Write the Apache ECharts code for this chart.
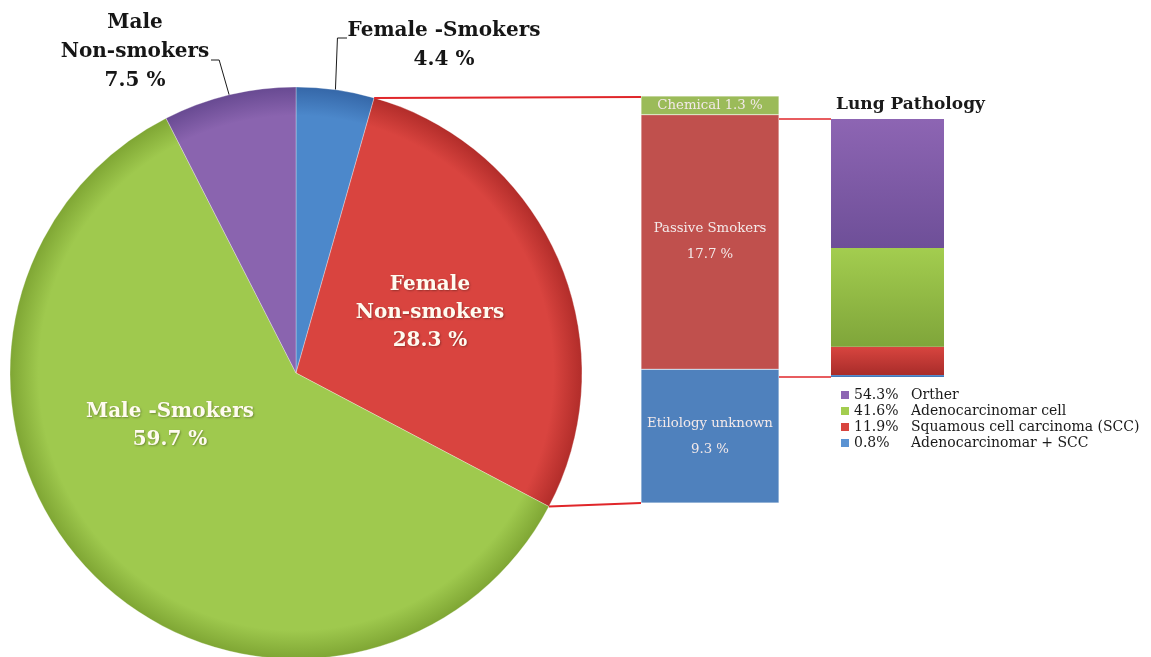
<!DOCTYPE html>
<html><head><meta charset="utf-8">
<script src="https://cdn.jsdelivr.net/npm/echarts@6/dist/echarts.min.js"></script>
<style>html,body{margin:0;padding:0;background:#fff}#c{width:1151px;height:657px}</style>
</head><body><div id="c"></div>
<script>
// ---- data ----
const pieLabels = ['Female -Smokers', 'Female\nNon-smokers', 'Male -Smokers', 'Male\nNon-smokers'];
const pieValues = [4.4, 28.3, 59.7, 7.5];
const causeLabels = ['Etilology unknown', 'Passive Smokers', 'Chemical'];
const causeValues = [9.3, 17.7, 1.3];
const pathologyLabels = ['Adenocarcinomar + SCC', 'Squamous cell carcinoma (SCC)', 'Adenocarcinomar cell', 'Orther'];
const pathologyValues = [0.8, 11.9, 41.6, 54.3];
const pathologyLegendOrder = ['Orther', 'Adenocarcinomar cell', 'Squamous cell carcinoma (SCC)', 'Adenocarcinomar + SCC'];
const chartTitle = 'Lung Pathology';

// ---- styling / layout ----
const FONT = 'DejaVu Serif';
const CX = 296, CY = 373, R = 286;
const pieColors = [['#4c88cb', '#3567a8'], ['#d9443f', '#b22d2a'], ['#9fc94e', '#7fa634'], ['#8a64af', '#684a92']];
const causeColors = ['#4f81bd', '#c0504d', '#9bbb59'];
const pathColors = [['#5b93d3', '#3d6fae'], ['#d8453f', '#a82c2a'], ['#a3cd4f', '#7fa53a'], ['#8d65b3', '#6e4f98']];

const sum = a => a.reduce((s, v) => s + v, 0);
const pieTotal = sum(pieValues);
function piePoint(frac, r) {
  const t = frac * 2 * Math.PI;
  return [CX + r * Math.sin(t), CY - r * Math.cos(t)];
}
function radial(c) {
  return { type: 'radial', x: CX, y: CY, r: R, global: true,
    colorStops: [{ offset: 0, color: c[0] }, { offset: 0.9, color: c[0] }, { offset: 1, color: c[1] }] };
}
function vgrad(c) {
  return { type: 'linear', x: 0, y: 0, x2: 0, y2: 1, colorStops: [{ offset: 0, color: c[0] }, { offset: 1, color: c[1] }] };
}

const insideLbl = { position: 'inside', color: '#fffbf0', fontSize: 20, fontWeight: 'bold', fontFamily: FONT, lineHeight: 28,
  textShadowColor: 'rgba(0,0,0,0.3)', textShadowBlur: 2, textShadowOffsetX: 1, textShadowOffsetY: 1 };
const outsideLbl = { position: 'outside', color: '#161616', fontSize: 20, fontWeight: 'bold', fontFamily: FONT, lineHeight: 29 };
const pieLabelStyle = [outsideLbl, insideLbl, insideLbl, outsideLbl];

// cumulative fractions
const cum = [0];
pieValues.forEach((v, i) => cum.push(cum[i] + v / pieTotal));

function labelLayout(p) {
  const i = p.dataIndex;
  const mid = (cum[i] + cum[i + 1]) / 2;
  const a = piePoint(mid, R);
  if (i === 0) {
    return { x: 444, y: 45, align: 'center', verticalAlign: 'middle',
      labelLinePoints: [a, [a[0] + 2, 38], [347, 38]] };
  }
  if (i === 3) {
    return { x: 135, y: 52, align: 'center', verticalAlign: 'middle',
      labelLinePoints: [a, [a[0] - 10, 60], [211, 60]] };
  }
  if (i === 1) return { x: 430, y: 313, align: 'center', verticalAlign: 'middle' };
  if (i === 2) return { x: 170, y: 426, align: 'center', verticalAlign: 'middle' };
}

const causeTotal = sum(causeValues);
const pathTotal = sum(pathologyValues);

const series = [];
series.push({
  type: 'pie', center: [CX, CY], radius: R, startAngle: 90, clockwise: true, avoidLabelOverlap: false,
  animation: false,
  data: pieValues.map((v, i) => ({
    name: pieLabels[i], value: v,
    itemStyle: { color: radial(pieColors[i]), borderColor: 'rgba(255,255,255,0.3)', borderWidth: 1 },
    label: Object.assign({ show: true, formatter: p => p.name + '\n' + p.value.toFixed(1) + ' %' }, pieLabelStyle[i]),
    labelLine: { show: i === 0 || i === 3, lineStyle: { color: '#1a1a1a', width: 1 } }
  })),
  labelLayout: labelLayout
});
causeValues.forEach((v, i) => {
  series.push({
    type: 'bar', name: causeLabels[i], xAxisIndex: 0, yAxisIndex: 0, stack: 'cause', barWidth: '100%',
    data: [v], animation: false,
    itemStyle: { color: causeColors[i], borderColor: 'rgba(255,255,255,0.5)', borderWidth: 0.5 },
    label: { show: true, position: 'inside', color: '#f3e9e9', fontSize: 13.3, fontFamily: FONT, lineHeight: 26,
      formatter: p => i === 2 ? (p.seriesName + ' ' + p.value + ' %') : (p.seriesName + '\n' + p.value + ' %') }
  });
});
pathologyValues.forEach((v, i) => {
  series.push({
    type: 'bar', name: pathologyLabels[i], xAxisIndex: 1, yAxisIndex: 1, stack: 'path', barWidth: '100%',
    data: [v], animation: false,
    itemStyle: { color: vgrad(pathColors[i]) }
  });
});

const valueOf = {};
pathologyLabels.forEach((n, i) => valueOf[n] = pathologyValues[i]);

const chart = echarts.init(document.getElementById('c'), null, { renderer: 'canvas' });
chart.setOption({
  backgroundColor: '#ffffff',
  animation: false,
  title: { text: chartTitle, left: 831, top: 91, textStyle: { fontFamily: FONT, fontSize: 17, fontWeight: 'bold', color: '#1a1a1a' } },
  legend: {
    data: pathologyLegendOrder.map((n, i) => ({ name: n, itemStyle: { color: pathColors[pathologyLabels.indexOf(n)][0] } })),
    orient: 'vertical', left: 836, top: 382, itemWidth: 8, itemHeight: 8, itemGap: 0, icon: 'rect',
    selectedMode: false,
    formatter: n => '{v|' + valueOf[n].toFixed(1) + '%}{n|' + n + '}',
    textStyle: { fontFamily: FONT, fontSize: 14, color: '#1a1a1a', lineHeight: 16,
      rich: { v: { width: 57, fontFamily: FONT, fontSize: 14, color: '#1a1a1a' }, n: { fontFamily: FONT, fontSize: 14, color: '#1a1a1a' } } }
  },
  grid: [
    { left: 641, top: 96, width: 138, height: 407 },
    { left: 831, top: 119, width: 113, height: 258 }
  ],
  xAxis: [
    { type: 'category', gridIndex: 0, data: ['cause'], show: false },
    { type: 'category', gridIndex: 1, data: ['path'], show: false }
  ],
  yAxis: [
    { type: 'value', gridIndex: 0, min: 0, max: causeTotal, show: false },
    { type: 'value', gridIndex: 1, min: 0, max: pathTotal, show: false }
  ],
  series: series
});

// connector lines (derived from pie geometry and bar scales)
const p1 = piePoint(cum[1], R);
const p2 = piePoint(cum[2], R);
const b1Top = chart.convertToPixel({ gridIndex: 0 }, ['cause', causeTotal]);
const b1Bot = chart.convertToPixel({ gridIndex: 0 }, ['cause', 0]);
const b2Top = chart.convertToPixel({ gridIndex: 1 }, ['path', pathTotal]);
const b2Bot = chart.convertToPixel({ gridIndex: 1 }, ['path', 0]);
const b1Left = 641, b1Right = 641 + 138, b2Left = 831;
const red = '#e0262a';
chart.setOption({
  graphic: [
    { type: 'line', shape: { x1: p1[0], y1: p1[1], x2: b1Left, y2: b1Top[1] + 1 }, style: { stroke: red, lineWidth: 2 }, z: 10 },
    { type: 'line', shape: { x1: p2[0], y1: p2[1], x2: b1Left, y2: b1Bot[1] }, style: { stroke: red, lineWidth: 2 }, z: 10 },
    { type: 'line', shape: { x1: b1Right, y1: b2Top[1], x2: b2Left, y2: b2Top[1] }, style: { stroke: red, lineWidth: 1.5 }, z: 10 },
    { type: 'line', shape: { x1: b1Right, y1: b2Bot[1], x2: b2Left, y2: b2Bot[1] }, style: { stroke: red, lineWidth: 1.5 }, z: 10 }
  ]
});
</script>
</body></html>
